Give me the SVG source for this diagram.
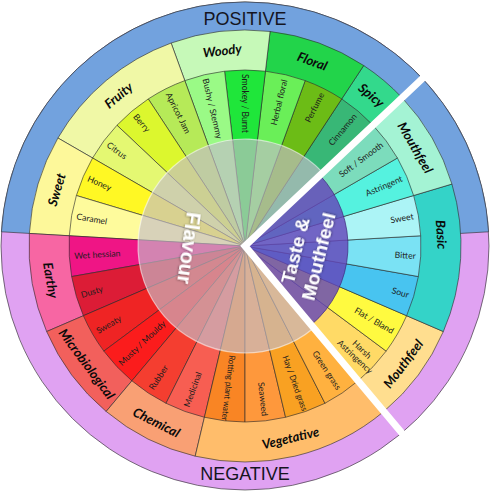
<svg xmlns="http://www.w3.org/2000/svg" width="492" height="493" viewBox="0 0 492 493">
<defs>
<style>
.seg{stroke:#2e2e2e;stroke-opacity:.7;stroke-width:.9;stroke-linejoin:round}
.sub{font-family:Lato,"Open Sans",sans-serif;font-size:8.6px;fill:#1c1c1c;dominant-baseline:central}
.out{text-anchor:end}
.in{text-anchor:start}
.mid{text-anchor:middle}
.cat{font-family:Lato,"Open Sans",sans-serif;font-size:13px;font-weight:bold;font-style:italic;fill:#0a0a0a;text-anchor:middle;dominant-baseline:central}
.big{font-family:"Liberation Sans",Arial,sans-serif;font-weight:bold;fill:#fff;text-anchor:middle;dominant-baseline:central}
.pole{font-family:"Liberation Sans",Arial,sans-serif;font-size:18px;fill:#15151f;text-anchor:middle}
</style>
<filter id="sh" x="-20%" y="-20%" width="140%" height="140%"><feDropShadow dx="0.6" dy="0.6" stdDeviation="0.8" flood-color="#000" flood-opacity="0.45"/></filter>
</defs>
<rect width="492" height="493" fill="#fff"/>

<g id="outer-ring">
<g id="node-negative">
<circle cx="245" cy="246" r="244" fill="#e0a2f2" class="seg"/>
<text class="pole" x="245" y="480">NEGATIVE</text>
</g>
<g id="node-positive">
<path d="M245,246 L488.59,231.81 A244,244 0 0 0 1.41,231.81 Z" fill="#72a2de" class="seg"/>
<text class="pole" x="245" y="25">POSITIVE</text>
</g>
</g>

<g id="categories">
<g id="cat-spicy"><path class="seg" fill="#33d98c" d="M245,246 L402.11,97.77 A216,216 0 0 0 363.70,65.53 Z"/><text class="cat" x="245" y="49" transform="rotate(40 245 246)">Spicy</text></g>
<g id="cat-floral"><path class="seg" fill="#22d44a" d="M245,246 L363.70,65.53 A216,216 0 0 0 270.08,31.46 Z"/><text class="cat" x="245" y="49" transform="rotate(20 245 246)">Floral</text></g>
<g id="cat-woody"><path class="seg" fill="#c6f9b8" d="M245,246 L270.08,31.46 A216,216 0 0 0 171.12,43.03 Z"/><text class="cat" x="245" y="49" transform="rotate(-6.667 245 246)">Woody</text></g>
<g id="cat-fruity"><path class="seg" fill="#f0f8a6" d="M245,246 L171.12,43.03 A216,216 0 0 0 57.94,138.00 Z"/><text class="cat" x="245" y="49" transform="rotate(-40 245 246)">Fruity</text></g>
<g id="cat-sweet"><path class="seg" fill="#fdf89a" d="M245,246 L57.94,138.00 A216,216 0 0 0 29.37,233.44 Z"/><text class="cat" x="245" y="49" transform="rotate(-73.333 245 246)">Sweet</text></g>
<g id="cat-earthy"><path class="seg" fill="#f766a3" d="M245,246 L29.37,233.44 A216,216 0 0 0 46.66,331.56 Z"/><text class="cat" x="245" y="443" transform="rotate(80 245 246)">Earthy</text></g>
<g id="cat-microbiological"><path class="seg" fill="#f2605c" d="M245,246 L46.66,331.56 A216,216 0 0 0 106.16,411.46 Z"/><text class="cat" x="245" y="443" transform="rotate(53.333 245 246)">Microbiological</text></g>
<g id="cat-chemical"><path class="seg" fill="#f9a074" d="M245,246 L106.16,411.46 A216,216 0 0 0 195.19,456.18 Z"/><text class="cat" x="245" y="443" transform="rotate(26.667 245 246)">Chemical</text></g>
<g id="cat-vegetative"><path class="seg" fill="#ffbd6b" d="M245,246 L195.19,456.18 A216,216 0 0 0 383.84,411.46 Z"/><text class="cat" x="245" y="443" transform="rotate(-13.333 245 246)">Vegetative</text></g>
<g id="cat-mouthfeel-neg"><path class="seg" fill="#ffde8f" d="M245,246 L383.84,411.46 A216,216 0 0 0 443.34,331.56 Z"/><text class="cat" x="245" y="443" transform="rotate(-53.333 245 246)">Mouthfeel</text></g>
<g id="cat-basic"><path class="seg" fill="#34d3c8" d="M245,246 L443.34,331.56 A216,216 0 0 0 451.93,184.05 Z"/><text class="cat" x="245" y="49" transform="rotate(86.667 245 246)">Basic</text></g>
<g id="cat-mouthfeel-pos"><path class="seg" fill="#a4f3d4" d="M245,246 L451.93,184.05 A216,216 0 0 0 402.11,97.77 Z"/><text class="cat" x="245" y="49" transform="rotate(60 245 246)">Mouthfeel</text></g>
</g>

<g id="subcategories">
<g id="sub-cinnamon"><path class="seg" fill="#38b776" d="M245,246 L373.02,125.22 A176,176 0 0 0 341.72,98.95 Z"/><text class="sub out" x="416" y="246" transform="rotate(-50 245 246)">Cinnamon</text></g>
<g id="sub-perfume"><path class="seg" fill="#6cbc16" d="M245,246 L341.72,98.95 A176,176 0 0 0 305.20,80.61 Z"/><text class="sub out" x="416" y="246" transform="rotate(-63.333 245 246)">Perfume</text></g>
<g id="sub-herbal-floral"><path class="seg" fill="#6aef58" d="M245,246 L305.20,80.61 A176,176 0 0 0 265.43,71.19 Z"/><text class="sub out" x="416" y="246" transform="rotate(-76.667 245 246)">Herbal floral</text></g>
<g id="sub-smokey"><path class="seg" fill="#1fe63a" d="M245,246 L265.43,71.19 A176,176 0 0 0 224.57,71.19 Z"/><text class="sub in" x="73" y="246" transform="rotate(90 245 246)">Smokey / Burnt</text></g>
<g id="sub-bushy"><path class="seg" fill="#9afa86" d="M245,246 L224.57,71.19 A176,176 0 0 0 184.80,80.61 Z"/><text class="sub in" x="73" y="246" transform="rotate(76.667 245 246)">Bushy / Stemmy</text></g>
<g id="sub-apricot"><path class="seg" fill="#b6ea58" d="M245,246 L184.80,80.61 A176,176 0 0 0 148.28,98.95 Z"/><text class="sub in" x="74" y="246" transform="rotate(63.333 245 246)">Apricot Jam</text></g>
<g id="sub-berry"><path class="seg" fill="#dcf72e" d="M245,246 L148.28,98.95 A176,176 0 0 0 116.98,125.22 Z"/><text class="sub in" x="74" y="246" transform="rotate(50 245 246)">Berry</text></g>
<g id="sub-citrus"><path class="seg" fill="#e4f872" d="M245,246 L116.98,125.22 A176,176 0 0 0 92.58,158.00 Z"/><text class="sub in" x="74" y="246" transform="rotate(36.667 245 246)">Citrus</text></g>
<g id="sub-honey"><path class="seg" fill="#fff824" d="M245,246 L92.58,158.00 A176,176 0 0 0 76.39,195.52 Z"/><text class="sub in" x="74" y="246" transform="rotate(23.333 245 246)">Honey</text></g>
<g id="sub-caramel"><path class="seg" fill="#fefb9c" d="M245,246 L76.39,195.52 A176,176 0 0 0 69.30,235.77 Z"/><text class="sub in" x="74" y="246" transform="rotate(10 245 246)">Caramel</text></g>
<g id="sub-wet-hessian"><path class="seg" fill="#ef1585" d="M245,246 L69.30,235.77 A176,176 0 0 0 71.67,276.56 Z"/><text class="sub in" x="74" y="246" transform="rotate(-3.333 245 246)">Wet hessian</text></g>
<g id="sub-dusty"><path class="seg" fill="#dc1c36" d="M245,246 L71.67,276.56 A176,176 0 0 0 83.39,315.71 Z"/><text class="sub in" x="74" y="246" transform="rotate(-16.667 245 246)">Dusty</text></g>
<g id="sub-sweaty"><path class="seg" fill="#ef2424" d="M245,246 L83.39,315.71 A176,176 0 0 0 103.83,351.10 Z"/><text class="sub in" x="74" y="246" transform="rotate(-30 245 246)">Sweaty</text></g>
<g id="sub-musty"><path class="seg" fill="#fb1c1c" d="M245,246 L103.83,351.10 A176,176 0 0 0 131.87,380.82 Z"/><text class="sub in" x="73" y="246" transform="rotate(-43.333 245 246)">Musty / Mouldy</text></g>
<g id="sub-rubber"><path class="seg" fill="#f43e30" d="M245,246 L131.87,380.82 A176,176 0 0 0 166.01,403.28 Z"/><text class="sub in" x="74" y="246" transform="rotate(-56.667 245 246)">Rubber</text></g>
<g id="sub-medicinal"><path class="seg" fill="#f75e52" d="M245,246 L166.01,403.28 A176,176 0 0 0 204.41,417.26 Z"/><text class="sub in" x="74" y="246" transform="rotate(-70 245 246)">Medicinal</text></g>
<g id="sub-rotting"><path class="seg" fill="#f98524" d="M245,246 L204.41,417.26 A176,176 0 0 0 245,422 Z"/><text class="sub out" x="421" y="246" textLength="66" lengthAdjust="spacingAndGlyphs" transform="rotate(96.667 245 246)">Rotting plant water</text></g>
<g id="sub-seaweed"><path class="seg" fill="#fe983c" d="M245,246 L245,422 A176,176 0 0 0 285.59,417.26 Z"/><text class="sub out" x="416" y="246" transform="rotate(83.333 245 246)">Seaweed</text></g>
<g id="sub-hay"><path class="seg" fill="#f9a122" d="M245,246 L285.59,417.26 A176,176 0 0 0 324.99,403.28 Z"/><text class="sub out" x="420" y="246" textLength="58" lengthAdjust="spacingAndGlyphs" transform="rotate(70 245 246)">Hay / Dried grass</text></g>
<g id="sub-green-grass"><path class="seg" fill="#ffb13f" d="M245,246 L324.99,403.28 A176,176 0 0 0 358.13,380.82 Z"/><text class="sub out" x="416" y="246" transform="rotate(56.667 245 246)">Green grass</text></g>
<g id="sub-harsh"><path class="seg" fill="#ffda66" d="M245,246 L358.13,380.82 A176,176 0 0 0 386.17,351.10 Z"/><text class="sub mid" transform="rotate(43.333 245 246)"><tspan x="401" y="241">Harsh</tspan><tspan x="401" y="251">Astringency</tspan></text></g>
<g id="sub-flat"><path class="seg" fill="#fffa40" d="M245,246 L386.17,351.10 A176,176 0 0 0 406.61,315.71 Z"/><text class="sub out" x="416" y="246" transform="rotate(30 245 246)">Flat / Bland</text></g>
<g id="sub-sour"><path class="seg" fill="#48c4f0" d="M245,246 L406.61,315.71 A176,176 0 0 0 418.33,276.56 Z"/><text class="sub out" x="416" y="246" transform="rotate(16.667 245 246)">Sour</text></g>
<g id="sub-bitter"><path class="seg" fill="#7ae2f4" d="M245,246 L418.33,276.56 A176,176 0 0 0 420.70,235.77 Z"/><text class="sub out" x="416" y="246" transform="rotate(3.333 245 246)">Bitter</text></g>
<g id="sub-sweet-taste"><path class="seg" fill="#acf4f6" d="M245,246 L420.70,235.77 A176,176 0 0 0 413.61,195.52 Z"/><text class="sub out" x="416" y="246" transform="rotate(-10 245 246)">Sweet</text></g>
<g id="sub-astringent"><path class="seg" fill="#55f2df" d="M245,246 L413.61,195.52 A176,176 0 0 0 397.42,158.00 Z"/><text class="sub out" x="416" y="246" transform="rotate(-23.333 245 246)">Astringent</text></g>
<g id="sub-soft"><path class="seg" fill="#7cdcbc" d="M245,246 L397.42,158.00 A176,176 0 0 0 373.02,125.22 Z"/><text class="sub out" x="416" y="246" transform="rotate(-36.667 245 246)">Soft / Smooth</text></g>
</g>

<g id="center-flavour">
<path d="M245,246 L322.83,172.57 A107,107 0 1 0 313.78,327.97 Z" fill="#c4bcc8" fill-opacity="0.66" stroke="#fff" stroke-opacity="0.55" stroke-width="1.2"/>
<text class="big" font-size="20" transform="translate(189,248) rotate(98)" filter="url(#sh)">Flavour</text>
</g>

<g id="center-taste">
<path d="M245,246 L311.21,324.90 A103,103 0 0 0 319.92,175.32 Z" fill="#6446b9" fill-opacity="0.82" stroke="#3d2a7a" stroke-opacity="0.7" stroke-width="1"/>
<text class="big" font-size="19" transform="translate(306.5,253.5) rotate(-76)" filter="url(#sh)"><tspan x="0" y="-12">Taste &amp;</tspan><tspan x="0" y="12">Mouthfeel</tspan></text>
</g>

<g id="separators">
<polyline points="434.12,67.57 245,246 412.13,445.17" fill="none" stroke="#fff" stroke-width="7" stroke-linejoin="miter"/>
</g>
</svg>
